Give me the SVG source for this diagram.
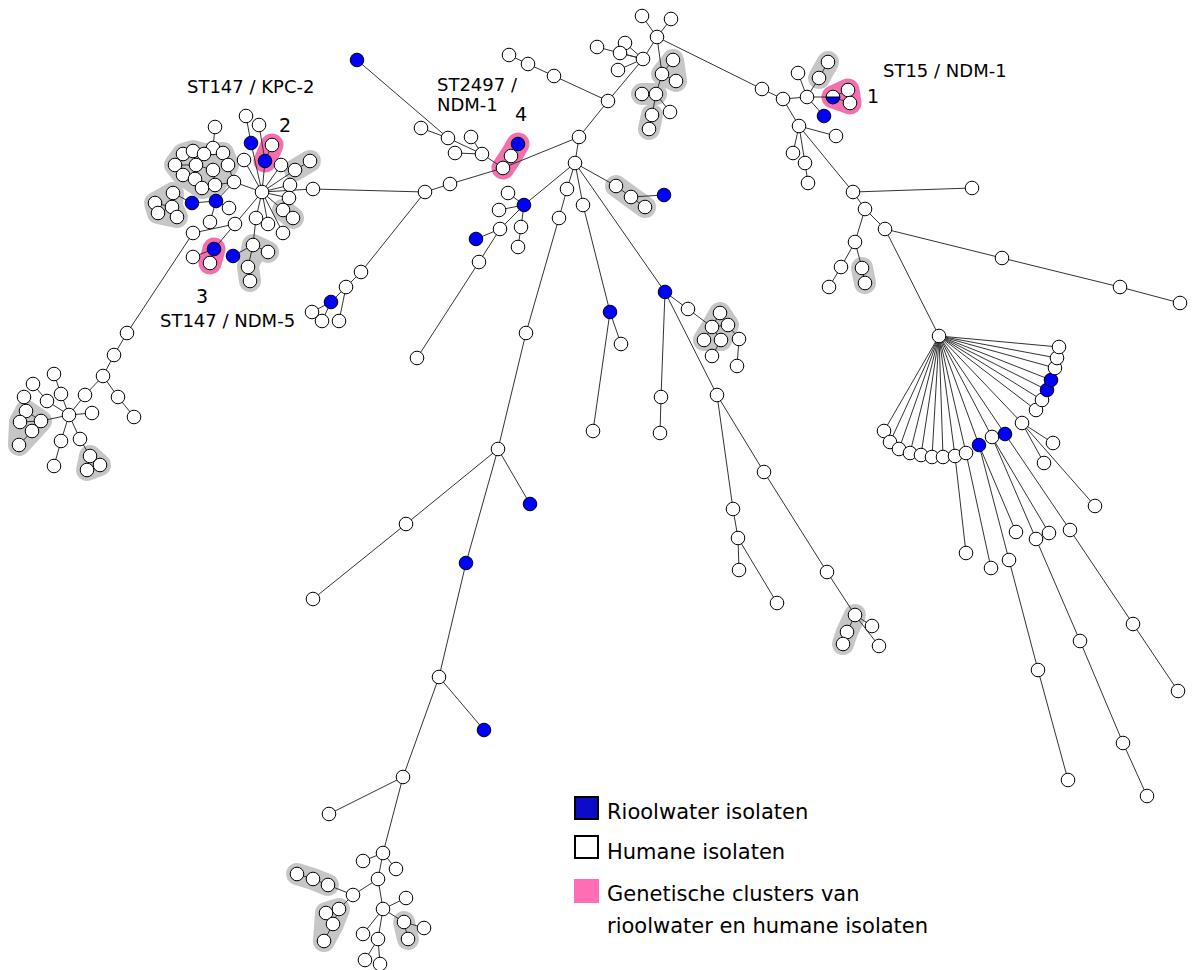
<svg xmlns="http://www.w3.org/2000/svg" width="1194" height="970" viewBox="0 0 1194 970">
<style>
.e{stroke:#333;stroke-width:1;fill:none}
.n{fill:#fff;stroke:#000;stroke-width:1}
.b{fill:#0000ff;stroke:#000;stroke-width:1}
.h{fill:#c6c6c6;stroke:#c6c6c6;stroke-width:22;stroke-linecap:round;stroke-linejoin:round}
.p{fill:#f36fae;stroke:#f36fae;stroke-width:23;stroke-linecap:round;stroke-linejoin:round}
.t{font-family:"DejaVu Sans",Verdana,sans-serif;fill:#000}
.s{font-size:18px}
.d{font-size:19px}
.g{font-size:21px}
</style>
<rect width="1194" height="970" fill="#fff"/>
<g id="halos">
<polygon class="h" points="183,154 193,151 204,154 223,153 228,165 215,185 202,188 183,175 175,165"/>
<polygon class="h" points="173,193 172,207 177,217 158,213 155,203"/>
<polyline class="h" points="295,170 310,161"/>
<polyline class="h" points="283,210 293,218"/>
<polyline class="h" points="268,252 253,245 248,267 250,281"/>
<polygon class="h" points="26,411 41,421 32,431 19,445 20,422"/>
<polygon class="h" points="90,456 100,465 87,470"/>
<polygon class="h" points="673,60 676,81 662,74"/>
<polyline class="h" points="642,94 656,94"/>
<polyline class="h" points="652,115 649,129"/>
<polyline class="h" points="828,62 819,78"/>
<polyline class="h" points="616,186 631,197 645,207"/>
<polygon class="h" points="720,313 728,325 721,340 704,340 712,327"/>
<polyline class="h" points="862,268 865,283"/>
<polyline class="h" points="855,615 847,632 843,644"/>
<polyline class="h" points="297,874 313,879 328,885"/>
<polygon class="h" points="339,909 333,924 324,941 326,913"/>
<polyline class="h" points="404,922 408,939"/>
<polyline class="p" points="272,145 265,161"/>
<polyline class="p" points="214,249 210,263"/>
<polyline class="p" points="518,144 511,156 503,168"/>
<polygon class="p" points="833,97 848,90 850,103"/>
</g>
<g id="connectors" class="e">
<path d="M246,116L251,143M251,143L262,192M259,125L265,161M265,161L262,192M272,145L265,161M262,192L244,160M262,192L234,182M234,182L215,185M213,148L215,127M213,148L204,154M183,154L193,151M193,151L204,154M204,154L223,153M223,153L228,165M175,165L196,165M196,165L213,170M213,170L215,185M183,175L195,179M195,179L202,188M202,188L215,185M183,154L175,165M196,165L193,151M228,165L234,182M234,182L216,201M216,201L192,203M192,203L173,193M155,203L172,207M158,213L172,207M173,193L172,207M177,217L172,207M262,192L281,165M262,192L295,170M295,170L310,161M262,192L290,185M262,192L313,189M262,192L289,198M262,192L283,210M283,210L293,218M262,192L283,233M262,192L268,224M262,192L256,218M262,192L235,224M235,224L193,233M216,201L229,208M216,201L210,222M256,218L253,245M253,245L268,252M253,245L248,267M248,267L250,281M214,249L235,224M214,249L193,257M214,249L210,263M233,256L253,245"/>
<path d="M193,233L127,333M127,333L114,355M114,355L103,376M103,376L85,395M103,376L118,397M118,397L134,417M85,395L69,415M69,415L92,413M69,415L61,394M61,394L54,374M69,415L47,401M47,401L33,384M69,415L41,421M41,421L26,411M26,411L24,397M41,421L20,422M41,421L32,431M32,431L19,445M69,415L61,441M61,441L54,466M69,415L80,439M80,439L90,456M90,456L100,465M90,456L87,470"/>
<path d="M313,189L425,192M425,192L450,184M450,184L503,168M503,168L579,137M503,168L511,156M511,156L518,144M503,168L482,154M482,154L455,153M482,154L448,138M482,154L471,137M448,138L421,128M448,138L357,60M425,192L361,272M361,272L346,287M346,287L331,302M331,302L312,312M331,302L322,321M346,287L339,321"/>
<path d="M579,137L608,101M608,101L554,76M554,76L528,64M528,64L509,55M608,101L643,59M643,59L597,47M643,59L625,43M643,59L620,53M643,59L618,70M643,59L657,37M657,37L642,16M657,37L671,19M657,37L662,74M662,74L673,60M662,74L676,81M662,74L656,94M656,94L642,94M656,94L652,115M652,115L649,129M656,94L670,112M657,37L762,89"/>
<path d="M762,89L783,99M783,99L807,97M807,97L833,97M833,97L848,90M833,97L850,103M807,97L824,116M807,97L819,78M819,78L828,62M807,97L798,73M783,99L799,126M799,126L836,136M799,126L793,153M799,126L805,163M805,163L808,183M799,126L853,192M853,192L972,188M853,192L865,209M865,209L885,229M885,229L1002,258M1002,258L1120,287M1120,287L1180,303M865,209L855,242M855,242L841,267M841,267L829,287M855,242L862,268M862,268L865,283M885,229L939,336"/>
<path d="M939,336L884,431M939,336L890,442M939,336L899,449M939,336L910,453M939,336L921,455M939,336L932,457M939,336L943,457M939,336L955,456M939,336L966,453M939,336L979,445M939,336L992,437M939,336L1005,434M939,336L1022,423M939,336L1036,410M939,336L1042,400M939,336L1047,390M939,336L1051,380M939,336L1055,368M939,336L1057,358M939,336L1059,347M1022,423L1053,443M1022,423L1044,463M1022,423L1095,506M1005,434L1070,530M1070,530L1133,624M1133,624L1178,691M992,437L1049,533M992,437L1036,539M1036,539L1080,641M1080,641L1123,743M1123,743L1147,796M979,445L1016,532M979,445L1009,560M1009,560L1038,670M1038,670L1068,780M966,453L991,568M955,456L966,553"/>
<path d="M579,137L575,163M575,163L567,189M567,189L559,218M559,218L526,333M526,333L498,449M498,449L530,504M498,449L406,524M406,524L313,599M498,449L466,563M466,563L439,677M439,677L484,730M439,677L403,777M403,777L329,814M403,777L383,853M383,853L363,861M383,853L396,869M383,853L378,879M378,879L353,895M353,895L328,885M328,885L313,879M313,879L297,874M353,895L339,909M339,909L326,913M339,909L333,924M333,924L324,941M378,879L383,909M383,909L406,898M383,909L404,922M404,922L408,939M404,922L424,928M383,909L363,934M383,909L378,939M378,939L365,960M378,939L380,964"/>
<path d="M575,163L524,205M524,205L508,193M524,205L499,210M524,205L521,227M521,227L518,247M524,205L500,229M500,229L476,239M500,229L479,262M479,262L417,358M575,163L583,205M583,205L610,312M610,312L621,344M610,312L593,431M575,163L616,186M616,186L631,197M631,197L645,207M631,197L664,195M575,163L665,292M665,292L688,309M688,309L712,327M712,327L720,313M712,327L728,325M712,327L704,340M712,327L721,340M721,340L712,356M728,325L739,339M739,339L737,366M665,292L661,397M661,397L660,433M665,292L717,395M717,395L764,472M764,472L827,572M827,572L855,615M855,615L847,632M847,632L843,644M855,615L872,626M855,615L879,646M717,395L733,509M733,509L738,538M738,538L739,570M738,538L777,603"/>
</g>
<g id="nodes">
<g id="L0"><circle class="n" cx="262" cy="192" r="6.8"/></g>
<g id="L1"><circle class="n" cx="246" cy="116" r="6.8"/></g>
<g id="L2"><circle class="n" cx="259" cy="125" r="6.8"/></g>
<g id="L3"><circle class="n" cx="215" cy="127" r="6.8"/></g>
<g id="L4"><circle class="b" cx="251" cy="143" r="6.8"/></g>
<g id="L5"><circle class="n" cx="272" cy="145" r="6.8"/></g>
<g id="L6"><circle class="b" cx="265" cy="161" r="6.8"/></g>
<g id="L7"><circle class="n" cx="213" cy="148" r="6.8"/></g>
<g id="B1"><circle class="n" cx="183" cy="154" r="6.8"/></g>
<g id="B2"><circle class="n" cx="193" cy="151" r="6.8"/></g>
<g id="B3"><circle class="n" cx="204" cy="154" r="6.8"/></g>
<g id="B4"><circle class="n" cx="223" cy="153" r="6.8"/></g>
<g id="B5"><circle class="n" cx="175" cy="165" r="6.8"/></g>
<g id="B6"><circle class="n" cx="196" cy="165" r="6.8"/></g>
<g id="B7"><circle class="n" cx="228" cy="165" r="6.8"/></g>
<g id="B8"><circle class="n" cx="213" cy="170" r="6.8"/></g>
<g id="B9"><circle class="n" cx="183" cy="175" r="6.8"/></g>
<g id="B10"><circle class="n" cx="195" cy="179" r="6.8"/></g>
<g id="B12"><circle class="n" cx="202" cy="188" r="6.8"/></g>
<g id="B13"><circle class="n" cx="215" cy="185" r="6.8"/></g>
<g id="L8"><circle class="n" cx="244" cy="160" r="6.8"/></g>
<g id="L9"><circle class="n" cx="234" cy="182" r="6.8"/></g>
<g id="L10"><circle class="n" cx="281" cy="165" r="6.8"/></g>
<g id="L11"><circle class="n" cx="295" cy="170" r="6.8"/></g>
<g id="L12"><circle class="n" cx="310" cy="161" r="6.8"/></g>
<g id="L13"><circle class="n" cx="290" cy="185" r="6.8"/></g>
<g id="L14"><circle class="n" cx="313" cy="189" r="6.8"/></g>
<g id="L15"><circle class="n" cx="289" cy="198" r="6.8"/></g>
<g id="L16"><circle class="n" cx="283" cy="210" r="6.8"/></g>
<g id="L17"><circle class="n" cx="293" cy="218" r="6.8"/></g>
<g id="L18"><circle class="n" cx="283" cy="233" r="6.8"/></g>
<g id="L19"><circle class="n" cx="268" cy="224" r="6.8"/></g>
<g id="L20"><circle class="n" cx="256" cy="218" r="6.8"/></g>
<g id="L21"><circle class="n" cx="229" cy="208" r="6.8"/></g>
<g id="L22"><circle class="n" cx="210" cy="222" r="6.8"/></g>
<g id="L23"><circle class="n" cx="193" cy="233" r="6.8"/></g>
<g id="L24"><circle class="n" cx="235" cy="224" r="6.8"/></g>
<g id="L25"><circle class="n" cx="155" cy="203" r="6.8"/></g>
<g id="L26"><circle class="n" cx="158" cy="213" r="6.8"/></g>
<g id="L27"><circle class="n" cx="172" cy="207" r="6.8"/></g>
<g id="L28"><circle class="n" cx="173" cy="193" r="6.8"/></g>
<g id="L29"><circle class="n" cx="177" cy="217" r="6.8"/></g>
<g id="L30"><circle class="b" cx="192" cy="203" r="6.8"/></g>
<g id="L31"><circle class="b" cx="216" cy="201" r="6.8"/></g>
<g id="L32"><circle class="b" cx="214" cy="249" r="6.8"/></g>
<g id="L33"><circle class="n" cx="210" cy="263" r="6.8"/></g>
<g id="L34"><circle class="n" cx="193" cy="257" r="6.8"/></g>
<g id="L35"><circle class="b" cx="233" cy="256" r="6.8"/></g>
<g id="L36"><circle class="n" cx="253" cy="245" r="6.8"/></g>
<g id="L37"><circle class="n" cx="268" cy="252" r="6.8"/></g>
<g id="L38"><circle class="n" cx="248" cy="267" r="6.8"/></g>
<g id="L39"><circle class="n" cx="250" cy="281" r="6.8"/></g>
<g id="W0"><circle class="n" cx="127" cy="333" r="6.8"/></g>
<g id="W1"><circle class="n" cx="114" cy="355" r="6.8"/></g>
<g id="W2"><circle class="n" cx="103" cy="376" r="6.8"/></g>
<g id="W3"><circle class="n" cx="85" cy="395" r="6.8"/></g>
<g id="W4"><circle class="n" cx="118" cy="397" r="6.8"/></g>
<g id="W5"><circle class="n" cx="134" cy="417" r="6.8"/></g>
<g id="W6"><circle class="n" cx="69" cy="415" r="6.8"/></g>
<g id="W7"><circle class="n" cx="92" cy="413" r="6.8"/></g>
<g id="W8"><circle class="n" cx="61" cy="394" r="6.8"/></g>
<g id="W9"><circle class="n" cx="54" cy="374" r="6.8"/></g>
<g id="W10"><circle class="n" cx="33" cy="384" r="6.8"/></g>
<g id="W11"><circle class="n" cx="47" cy="401" r="6.8"/></g>
<g id="W12"><circle class="n" cx="24" cy="397" r="6.8"/></g>
<g id="W13"><circle class="n" cx="26" cy="411" r="6.8"/></g>
<g id="W14"><circle class="n" cx="20" cy="422" r="6.8"/></g>
<g id="W15"><circle class="n" cx="41" cy="421" r="6.8"/></g>
<g id="W16"><circle class="n" cx="32" cy="431" r="6.8"/></g>
<g id="W17"><circle class="n" cx="19" cy="445" r="6.8"/></g>
<g id="W18"><circle class="n" cx="61" cy="441" r="6.8"/></g>
<g id="W19"><circle class="n" cx="54" cy="466" r="6.8"/></g>
<g id="W20"><circle class="n" cx="80" cy="439" r="6.8"/></g>
<g id="W21"><circle class="n" cx="90" cy="456" r="6.8"/></g>
<g id="W22"><circle class="n" cx="100" cy="465" r="6.8"/></g>
<g id="W23"><circle class="n" cx="87" cy="470" r="6.8"/></g>
<g id="C2"><circle class="n" cx="425" cy="192" r="6.8"/></g>
<g id="C3"><circle class="n" cx="450" cy="184" r="6.8"/></g>
<g id="C4"><circle class="n" cx="503" cy="168" r="6.8"/></g>
<g id="C5"><circle class="n" cx="511" cy="156" r="6.8"/></g>
<g id="C6"><circle class="b" cx="518" cy="144" r="6.8"/></g>
<g id="C7"><circle class="n" cx="482" cy="154" r="6.8"/></g>
<g id="C8"><circle class="n" cx="455" cy="153" r="6.8"/></g>
<g id="C9"><circle class="n" cx="448" cy="138" r="6.8"/></g>
<g id="C10"><circle class="n" cx="421" cy="128" r="6.8"/></g>
<g id="C11"><circle class="n" cx="471" cy="137" r="6.8"/></g>
<g id="C12"><circle class="b" cx="357" cy="60" r="6.8"/></g>
<g id="D1"><circle class="n" cx="361" cy="272" r="6.8"/></g>
<g id="D2"><circle class="n" cx="346" cy="287" r="6.8"/></g>
<g id="D3"><circle class="b" cx="331" cy="302" r="6.8"/></g>
<g id="D4"><circle class="n" cx="312" cy="312" r="6.8"/></g>
<g id="D5"><circle class="n" cx="322" cy="321" r="6.8"/></g>
<g id="D6"><circle class="n" cx="339" cy="321" r="6.8"/></g>
<g id="A"><circle class="n" cx="579" cy="137" r="6.8"/></g>
<g id="T1"><circle class="n" cx="608" cy="101" r="6.8"/></g>
<g id="T2"><circle class="n" cx="554" cy="76" r="6.8"/></g>
<g id="T3"><circle class="n" cx="528" cy="64" r="6.8"/></g>
<g id="T4"><circle class="n" cx="509" cy="55" r="6.8"/></g>
<g id="T5"><circle class="n" cx="643" cy="59" r="6.8"/></g>
<g id="T6"><circle class="n" cx="597" cy="47" r="6.8"/></g>
<g id="T7"><circle class="n" cx="625" cy="43" r="6.8"/></g>
<g id="T8"><circle class="n" cx="620" cy="53" r="6.8"/></g>
<g id="T9"><circle class="n" cx="618" cy="70" r="6.8"/></g>
<g id="T10"><circle class="n" cx="657" cy="37" r="6.8"/></g>
<g id="T11"><circle class="n" cx="642" cy="16" r="6.8"/></g>
<g id="T12"><circle class="n" cx="671" cy="19" r="6.8"/></g>
<g id="T13"><circle class="n" cx="673" cy="60" r="6.8"/></g>
<g id="T14"><circle class="n" cx="662" cy="74" r="6.8"/></g>
<g id="T15"><circle class="n" cx="676" cy="81" r="6.8"/></g>
<g id="T16"><circle class="n" cx="642" cy="94" r="6.8"/></g>
<g id="T17"><circle class="n" cx="656" cy="94" r="6.8"/></g>
<g id="T18"><circle class="n" cx="652" cy="115" r="6.8"/></g>
<g id="T19"><circle class="n" cx="649" cy="129" r="6.8"/></g>
<g id="T20"><circle class="n" cx="670" cy="112" r="6.8"/></g>
<g id="R1"><circle class="n" cx="762" cy="89" r="6.8"/></g>
<g id="R2"><circle class="n" cx="783" cy="99" r="6.8"/></g>
<g id="R3"><circle class="n" cx="807" cy="97" r="6.8"/></g>
<g id="R4"><circle class="n" cx="833" cy="97" r="6.8"/><path d="M826.2,97A6.8,6.8 0 0 0 839.8,97Z" fill="#0000ff" stroke="#000" stroke-width="1"/></g>
<g id="R5"><circle class="n" cx="848" cy="90" r="6.8"/></g>
<g id="R6"><circle class="n" cx="850" cy="103" r="6.8"/></g>
<g id="R7"><circle class="b" cx="824" cy="116" r="6.8"/></g>
<g id="R8"><circle class="n" cx="828" cy="62" r="6.8"/></g>
<g id="R9"><circle class="n" cx="819" cy="78" r="6.8"/></g>
<g id="R10"><circle class="n" cx="798" cy="73" r="6.8"/></g>
<g id="R11"><circle class="n" cx="799" cy="126" r="6.8"/></g>
<g id="R12"><circle class="n" cx="836" cy="136" r="6.8"/></g>
<g id="R13"><circle class="n" cx="793" cy="153" r="6.8"/></g>
<g id="R14"><circle class="n" cx="805" cy="163" r="6.8"/></g>
<g id="R15"><circle class="n" cx="808" cy="183" r="6.8"/></g>
<g id="R16"><circle class="n" cx="853" cy="192" r="6.8"/></g>
<g id="R17"><circle class="n" cx="972" cy="188" r="6.8"/></g>
<g id="R18"><circle class="n" cx="865" cy="209" r="6.8"/></g>
<g id="R19"><circle class="n" cx="885" cy="229" r="6.8"/></g>
<g id="R20"><circle class="n" cx="1002" cy="258" r="6.8"/></g>
<g id="R21"><circle class="n" cx="1120" cy="287" r="6.8"/></g>
<g id="R22"><circle class="n" cx="1180" cy="303" r="6.8"/></g>
<g id="R23"><circle class="n" cx="855" cy="242" r="6.8"/></g>
<g id="R24"><circle class="n" cx="841" cy="267" r="6.8"/></g>
<g id="R25"><circle class="n" cx="829" cy="287" r="6.8"/></g>
<g id="R26"><circle class="n" cx="862" cy="268" r="6.8"/></g>
<g id="R27"><circle class="n" cx="865" cy="283" r="6.8"/></g>
<g id="F0"><circle class="n" cx="939" cy="336" r="6.8"/></g>
<g id="F1"><circle class="n" cx="884" cy="431" r="6.8"/></g>
<g id="F2"><circle class="n" cx="890" cy="442" r="6.8"/></g>
<g id="F3"><circle class="n" cx="899" cy="449" r="6.8"/></g>
<g id="F4"><circle class="n" cx="910" cy="453" r="6.8"/></g>
<g id="F5"><circle class="n" cx="921" cy="455" r="6.8"/></g>
<g id="F6"><circle class="n" cx="932" cy="457" r="6.8"/></g>
<g id="F7"><circle class="n" cx="943" cy="457" r="6.8"/></g>
<g id="F8"><circle class="n" cx="955" cy="456" r="6.8"/></g>
<g id="F9"><circle class="n" cx="966" cy="453" r="6.8"/></g>
<g id="F10"><circle class="b" cx="979" cy="445" r="6.8"/></g>
<g id="F11"><circle class="n" cx="992" cy="437" r="6.8"/></g>
<g id="F12"><circle class="b" cx="1005" cy="434" r="6.8"/></g>
<g id="F13"><circle class="n" cx="1022" cy="423" r="6.8"/></g>
<g id="F14"><circle class="n" cx="1036" cy="410" r="6.8"/></g>
<g id="F15"><circle class="n" cx="1042" cy="400" r="6.8"/></g>
<g id="F16"><circle class="b" cx="1047" cy="390" r="6.8"/></g>
<g id="F17"><circle class="b" cx="1051" cy="380" r="6.8"/></g>
<g id="F18"><circle class="n" cx="1055" cy="368" r="6.8"/></g>
<g id="F19"><circle class="n" cx="1057" cy="358" r="6.8"/></g>
<g id="F20"><circle class="n" cx="1059" cy="347" r="6.8"/></g>
<g id="G1"><circle class="n" cx="1053" cy="443" r="6.8"/></g>
<g id="G2"><circle class="n" cx="1044" cy="463" r="6.8"/></g>
<g id="G3"><circle class="n" cx="1095" cy="506" r="6.8"/></g>
<g id="G4"><circle class="n" cx="1070" cy="530" r="6.8"/></g>
<g id="G5"><circle class="n" cx="1133" cy="624" r="6.8"/></g>
<g id="G6"><circle class="n" cx="1178" cy="691" r="6.8"/></g>
<g id="G7"><circle class="n" cx="1049" cy="533" r="6.8"/></g>
<g id="G8"><circle class="n" cx="1036" cy="539" r="6.8"/></g>
<g id="G9"><circle class="n" cx="1080" cy="641" r="6.8"/></g>
<g id="G10"><circle class="n" cx="1123" cy="743" r="6.8"/></g>
<g id="G11"><circle class="n" cx="1147" cy="796" r="6.8"/></g>
<g id="G12"><circle class="n" cx="1016" cy="532" r="6.8"/></g>
<g id="G13"><circle class="n" cx="1009" cy="560" r="6.8"/></g>
<g id="G14"><circle class="n" cx="1038" cy="670" r="6.8"/></g>
<g id="G15"><circle class="n" cx="1068" cy="780" r="6.8"/></g>
<g id="G16"><circle class="n" cx="991" cy="568" r="6.8"/></g>
<g id="G17"><circle class="n" cx="966" cy="553" r="6.8"/></g>
<g id="C13"><circle class="n" cx="575" cy="163" r="6.8"/></g>
<g id="S1"><circle class="n" cx="567" cy="189" r="6.8"/></g>
<g id="S2"><circle class="n" cx="559" cy="218" r="6.8"/></g>
<g id="S3"><circle class="n" cx="526" cy="333" r="6.8"/></g>
<g id="S4"><circle class="n" cx="498" cy="449" r="6.8"/></g>
<g id="S5"><circle class="b" cx="530" cy="504" r="6.8"/></g>
<g id="S6"><circle class="n" cx="406" cy="524" r="6.8"/></g>
<g id="S7"><circle class="n" cx="313" cy="599" r="6.8"/></g>
<g id="S8"><circle class="b" cx="466" cy="563" r="6.8"/></g>
<g id="S9"><circle class="n" cx="439" cy="677" r="6.8"/></g>
<g id="S10"><circle class="b" cx="484" cy="730" r="6.8"/></g>
<g id="S11"><circle class="n" cx="403" cy="777" r="6.8"/></g>
<g id="S12"><circle class="n" cx="329" cy="814" r="6.8"/></g>
<g id="K1"><circle class="n" cx="383" cy="853" r="6.8"/></g>
<g id="K2"><circle class="n" cx="363" cy="861" r="6.8"/></g>
<g id="K3"><circle class="n" cx="396" cy="869" r="6.8"/></g>
<g id="K4"><circle class="n" cx="378" cy="879" r="6.8"/></g>
<g id="K5"><circle class="n" cx="353" cy="895" r="6.8"/></g>
<g id="K6"><circle class="n" cx="297" cy="874" r="6.8"/></g>
<g id="K7"><circle class="n" cx="313" cy="879" r="6.8"/></g>
<g id="K8"><circle class="n" cx="328" cy="885" r="6.8"/></g>
<g id="K9"><circle class="n" cx="339" cy="909" r="6.8"/></g>
<g id="K10"><circle class="n" cx="326" cy="913" r="6.8"/></g>
<g id="K11"><circle class="n" cx="333" cy="924" r="6.8"/></g>
<g id="K12"><circle class="n" cx="324" cy="941" r="6.8"/></g>
<g id="K13"><circle class="n" cx="383" cy="909" r="6.8"/></g>
<g id="K14"><circle class="n" cx="406" cy="898" r="6.8"/></g>
<g id="K15"><circle class="n" cx="404" cy="922" r="6.8"/></g>
<g id="K16"><circle class="n" cx="408" cy="939" r="6.8"/></g>
<g id="K17"><circle class="n" cx="424" cy="928" r="6.8"/></g>
<g id="K18"><circle class="n" cx="363" cy="934" r="6.8"/></g>
<g id="K19"><circle class="n" cx="378" cy="939" r="6.8"/></g>
<g id="K20"><circle class="n" cx="365" cy="960" r="6.8"/></g>
<g id="K21"><circle class="n" cx="380" cy="964" r="6.8"/></g>
<g id="M1"><circle class="b" cx="524" cy="205" r="6.8"/></g>
<g id="M2"><circle class="n" cx="508" cy="193" r="6.8"/></g>
<g id="M3"><circle class="n" cx="499" cy="210" r="6.8"/></g>
<g id="M4"><circle class="n" cx="521" cy="227" r="6.8"/></g>
<g id="M5"><circle class="n" cx="518" cy="247" r="6.8"/></g>
<g id="M6"><circle class="n" cx="500" cy="229" r="6.8"/></g>
<g id="M7"><circle class="b" cx="476" cy="239" r="6.8"/></g>
<g id="M8"><circle class="n" cx="479" cy="262" r="6.8"/></g>
<g id="M9"><circle class="n" cx="417" cy="358" r="6.8"/></g>
<g id="N1"><circle class="n" cx="583" cy="205" r="6.8"/></g>
<g id="N2"><circle class="b" cx="610" cy="312" r="6.8"/></g>
<g id="N3"><circle class="n" cx="621" cy="344" r="6.8"/></g>
<g id="N4"><circle class="n" cx="593" cy="431" r="6.8"/></g>
<g id="P1"><circle class="n" cx="616" cy="186" r="6.8"/></g>
<g id="P2"><circle class="n" cx="631" cy="197" r="6.8"/></g>
<g id="P3"><circle class="n" cx="645" cy="207" r="6.8"/></g>
<g id="P4"><circle class="b" cx="664" cy="195" r="6.8"/></g>
<g id="Q1"><circle class="b" cx="665" cy="292" r="6.8"/></g>
<g id="Q2"><circle class="n" cx="688" cy="309" r="6.8"/></g>
<g id="Q3"><circle class="n" cx="720" cy="313" r="6.8"/></g>
<g id="Q4"><circle class="n" cx="712" cy="327" r="6.8"/></g>
<g id="Q5"><circle class="n" cx="728" cy="325" r="6.8"/></g>
<g id="Q6"><circle class="n" cx="704" cy="340" r="6.8"/></g>
<g id="Q7"><circle class="n" cx="721" cy="340" r="6.8"/></g>
<g id="Q8"><circle class="n" cx="739" cy="339" r="6.8"/></g>
<g id="Q9"><circle class="n" cx="712" cy="356" r="6.8"/></g>
<g id="Q10"><circle class="n" cx="737" cy="366" r="6.8"/></g>
<g id="Q11"><circle class="n" cx="661" cy="397" r="6.8"/></g>
<g id="Q12"><circle class="n" cx="660" cy="433" r="6.8"/></g>
<g id="Q13"><circle class="n" cx="717" cy="395" r="6.8"/></g>
<g id="Q14"><circle class="n" cx="764" cy="472" r="6.8"/></g>
<g id="Q15"><circle class="n" cx="827" cy="572" r="6.8"/></g>
<g id="Q16"><circle class="n" cx="855" cy="615" r="6.8"/></g>
<g id="Q17"><circle class="n" cx="847" cy="632" r="6.8"/></g>
<g id="Q18"><circle class="n" cx="843" cy="644" r="6.8"/></g>
<g id="Q19"><circle class="n" cx="872" cy="626" r="6.8"/></g>
<g id="Q20"><circle class="n" cx="879" cy="646" r="6.8"/></g>
<g id="Q21"><circle class="n" cx="733" cy="509" r="6.8"/></g>
<g id="Q22"><circle class="n" cx="738" cy="538" r="6.8"/></g>
<g id="Q23"><circle class="n" cx="739" cy="570" r="6.8"/></g>
<g id="Q24"><circle class="n" cx="777" cy="603" r="6.8"/></g>
</g>
<g id="labels" class="t">
<text class="s" x="187" y="93">ST147 / KPC-2</text>
<text class="d" x="279" y="132">2</text>
<text class="d" x="196" y="303">3</text>
<text class="s" x="160" y="327">ST147 / NDM-5</text>
<text class="s" x="437" y="91">ST2497 /</text>
<text class="s" x="437" y="111">NDM-1</text>
<text class="d" x="515" y="121">4</text>
<text class="s" x="883" y="77">ST15 / NDM-1</text>
<text class="d" x="867" y="103">1</text>
</g>
<g id="legend" class="t">
<rect x="575" y="797" width="23" height="22" fill="#0b0bc8" stroke="#000" stroke-width="2"/>
<rect x="575" y="836" width="23" height="22" fill="#fff" stroke="#000" stroke-width="2"/>
<rect x="574" y="879" width="25" height="24" fill="#ff6eb4"/>
<text class="g" x="607" y="819">Rioolwater isolaten</text>
<text class="g" x="607" y="859">Humane isolaten</text>
<text class="g" x="607" y="901">Genetische clusters van</text>
<text class="g" x="607" y="933">rioolwater en humane isolaten</text>
</g>
</svg>
